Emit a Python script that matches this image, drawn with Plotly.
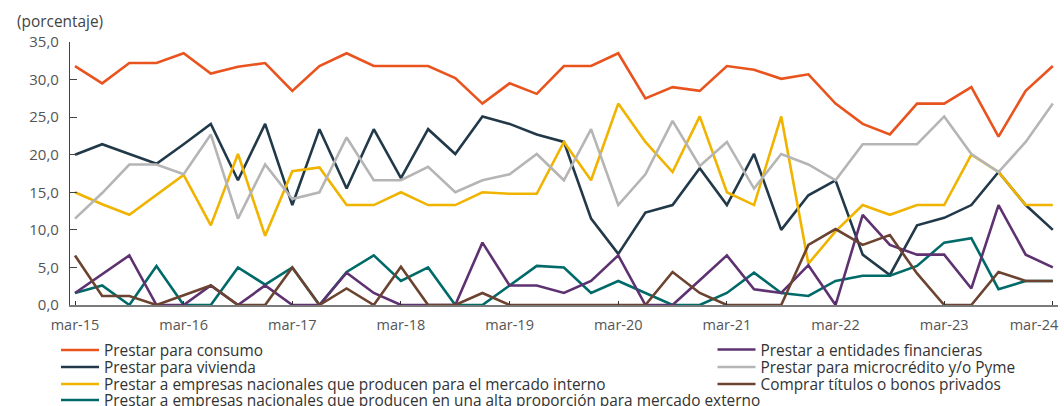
import plotly.graph_objects as go

quarters = [f"{m}-{y:02d}" for y in range(15, 25) for m in ["mar", "jun", "sep", "dic"]][:37]

tick_labels = ["mar-15", "mar-16", "mar-17", "mar-18", "mar-19", "mar-20",
               "mar-21", "mar-22", "mar-23", "mar-24"]

consumo = [31.8, 29.5, 32.2, 32.2, 33.5, 30.8, 31.7, 32.2, 28.5, 31.8,
           33.5, 31.8, 31.8, 31.8, 30.2, 26.8, 29.5, 28.1, 31.8, 31.8,
           33.5, 27.5, 29.0, 28.5, 31.8, 31.3, 30.1, 30.7, 26.8, 24.1,
           22.7, 26.8, 26.8, 29.0, 22.4, 28.5, 31.8]
vivienda = [20.0, 21.4, 20.1, 18.8, 21.4, 24.1, 16.6, 24.1, 13.3, 23.4,
            15.5, 23.4, 16.9, 23.4, 20.1, 25.1, 24.1, 22.7, 21.7, 11.5,
            6.8, 12.3, 13.3, 18.2, 13.3, 20.1, 10.0, 14.6, 16.6, 6.7,
            4.0, 10.6, 11.6, 13.3, 17.7, 13.3, 10.0]
interno = [15.0, 13.4, 12.0, 14.6, 17.3, 10.6, 20.1, 9.2, 17.8, 18.3,
           13.3, 13.3, 15.0, 13.3, 13.3, 15.0, 14.8, 14.8, 21.7, 16.6,
           26.8, 21.7, 17.7, 25.1, 15.0, 13.3, 25.1, 5.5, 9.8, 13.3,
           12.0, 13.3, 13.3, 20.0, 17.7, 13.3, 13.3]
externo = [1.6, 2.6, 0.0, 5.2, 0.0, 0.0, 5.0, 2.7, 5.0, 0.0,
           4.4, 6.6, 3.2, 5.0, 0.0, 0.0, 2.6, 5.2, 5.0, 1.6,
           3.2, 1.6, 0.0, 0.0, 1.6, 4.3, 1.6, 1.2, 3.2, 3.9,
           3.9, 5.2, 8.3, 8.9, 2.1, 3.2, 3.2]
financieras = [1.6, 4.1, 6.6, 0.0, 0.0, 2.6, 0.0, 2.6, 0.0, 0.0,
               4.3, 1.6, 0.0, 0.0, 0.0, 8.3, 2.6, 2.6, 1.6, 3.2,
               6.6, 0.0, 0.0, 3.3, 6.6, 2.1, 1.6, 5.3, 0.0, 12.0,
               8.0, 6.7, 6.7, 2.2, 13.3, 6.7, 5.0]
microcredito = [11.5, 14.9, 18.7, 18.7, 17.4, 22.7, 11.5, 18.7, 14.1, 15.0,
                22.3, 16.6, 16.6, 18.4, 15.0, 16.6, 17.4, 20.1, 16.6, 23.4,
                13.3, 17.4, 24.5, 18.5, 21.7, 15.5, 20.1, 18.7, 16.6, 21.4,
                21.4, 21.4, 25.1, 20.1, 17.7, 21.7, 26.8]
bonos = [6.6, 1.2, 1.2, 0.0, 1.3, 2.6, 0.0, 0.0, 5.0, 0.0,
         2.2, 0.0, 5.1, 0.0, 0.0, 1.6, 0.0, 0.0, 0.0, 0.0,
         0.0, 0.0, 4.4, 1.6, 0.0, 0.0, 0.0, 8.0, 10.1, 8.0,
         9.3, 4.2, 0.0, 0.0, 4.4, 3.2, 3.2]

series = [
    ("Prestar para consumo", consumo, "#E9531E"),
    ("Prestar para vivienda", vivienda, "#22394A"),
    ("Prestar a empresas nacionales que producen para el mercado interno", interno, "#F0B400"),
    ("Prestar a empresas nacionales que producen en una alta proporción para mercado externo", externo, "#006A69"),
    ("Prestar a entidades financieras", financieras, "#5E3170"),
    ("Prestar para microcrédito y/o Pyme", microcredito, "#B5B5B5"),
    ("Comprar títulos o bonos privados", bonos, "#6B4330"),
]

# Legend layout: (left pixel of legend box, row centre pixel) for each series
ML, MR, MT, MB = 70, 6, 42, 101
W, H = 1064, 406
PW, PH = W - ML - MR, H - MT - MB
legend_pos_px = [(56, 350.5), (56, 367.5), (56, 384.5), (56, 400.5),
                 (712.5, 350), (712.5, 367.5), (712.5, 384.5)]

font_family = "Open Sans, Noto Sans, sans-serif"
x = list(range(len(quarters)))
fig = go.Figure()
legends = {}
for k, (name, vals, color) in enumerate(series):
    key = "legend" if k == 0 else f"legend{k + 1}"
    fig.add_trace(go.Scatter(
        x=x, y=vals, name=name, mode="lines",
        line=dict(color=color, width=2.6),
        legend=key, customdata=quarters,
        hovertemplate="%{customdata}: %{y:.1f}<extra>" + name + "</extra>",
    ))
    px_x, px_y = legend_pos_px[k]
    legends[key] = dict(
        x=(px_x - ML) / PW, y=(H - MB - px_y) / PH,
        xanchor="left", yanchor="middle", orientation="v",
        font=dict(size=15.4, color="#333", family=font_family),
        itemwidth=38, bgcolor="rgba(0,0,0,0)", borderwidth=0,
    )

tickvals = list(range(0, 37, 4))
ticktext = tick_labels[:-1] + [tick_labels[-1] + "\u00a0" * 10]

fig.update_layout(
    width=W, height=H,
    margin=dict(l=ML, r=MR, t=MT, b=MB, autoexpand=False),
    paper_bgcolor="white", plot_bgcolor="white",
    separators=",.",
    font=dict(family=font_family, size=15, color="#555"),
    xaxis=dict(
        range=[-0.184, 36.19], tickvals=tickvals, ticktext=ticktext,
        showgrid=False, zeroline=False, showline=True, linecolor="#7a7a7a",
        linewidth=1.5, ticks="inside", ticklen=4, tickcolor="#333",
        tickfont=dict(size=14.5, color="#555"), ticklabelstandoff=6,
        ticklabeloverflow="allow", automargin=False,
    ),
    yaxis=dict(
        range=[0, 35], dtick=5, tickformat=".1f",
        showgrid=False, zeroline=False, showline=True, linecolor="#444",
        linewidth=1.2, ticks="inside", ticklen=7, tickcolor="#444",
        tickfont=dict(size=15, color="#555"), ticklabelstandoff=7,
        automargin=False,
    ),
    showlegend=True,
    annotations=[dict(text="(porcentaje)", xref="paper", yref="paper",
                      x=(15 - ML) / PW, y=1.0, xanchor="left", yanchor="middle",
                      yshift=MT - 21, showarrow=False,
                      font=dict(size=15.4, color="#444"))],
)
fig.update_layout(**legends)

fig.write_html(
    "out.html",
    config={"displayModeBar": False},
    post_script="document.body.style.margin='0';"
                "document.documentElement.style.overflow='hidden';",
)
